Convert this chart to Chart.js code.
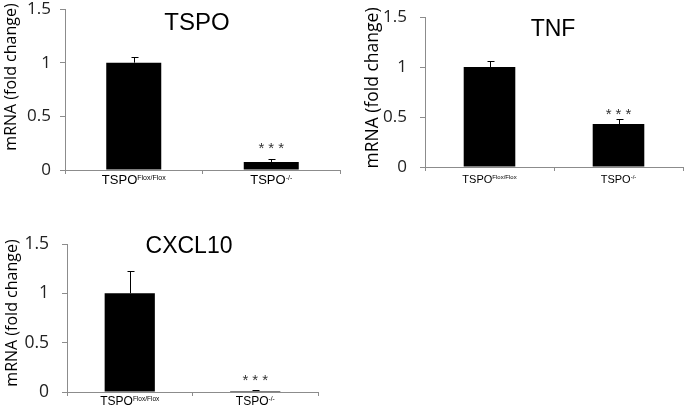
<!DOCTYPE html>
<html>
<head>
<meta charset="utf-8">
<script src="https://cdn.jsdelivr.net/npm/chart.js@4"></script>
<style>
  html, body { margin: 0; padding: 0; background: #fff; }
  body { width: 685px; height: 407px; position: relative; overflow: hidden; }
  canvas { position: absolute; }
</style>
</head>
<body>
<canvas id="tspoChart"></canvas>
<canvas id="tnfChart"></canvas>
<canvas id="cxcl10Chart"></canvas>
<script>
const labelBase = ["TSPO", "TSPO"];
const labelSup = ["Flox/Flox", "-/-"];
const categories = labelBase.map((b, i) => b + labelSup[i]);
const yTicks = [0, 0.5, 1, 1.5];
const significance = ["", "***"];

const tspoValues = [1.0, 0.075];
const tspoErrors = [0.05, 0.03];
const tnfValues = [1.0, 0.43];
const tnfErrors = [0.06, 0.05];
const cxcl10Values = [1.0, 0.01];
const cxcl10Errors = [0.23, 0.01];

const AXIS = "#8c8c8c";
const LEFT = 70, TOP = 30, RIGHT = 5, BOTTOM = 30;

// page coords of each panel (plot box, title, axis title)
const panels = [
  { id: "tspoChart", title: "TSPO", values: tspoValues, errors: tspoErrors,
    area: { l: 65, t: 9, r: 340, b: 170 }, titleX: 197, titleMid: 21.5, titleSize: 24,
    tickSize: 17, tickPad: 9, yTitle: { x: 11, y: 77, size: 16 },
    xSize: 13, supSize: 7, xGap: 14, sigGap: 6 },
  { id: "tnfChart", title: "TNF", values: tnfValues, errors: tnfErrors,
    area: { l: 425, t: 17, r: 683, b: 167 }, titleX: 553, titleMid: 27.5, titleSize: 23,
    tickSize: 17, tickPad: 13, yTitle: { x: 373, y: 88, size: 17.5 },
    xSize: 11, supSize: 6, xGap: 16, sigGap: 0 },
  { id: "cxcl10Chart", title: "CXCL10", values: cxcl10Values, errors: cxcl10Errors,
    area: { l: 67, t: 244, r: 318, b: 392 }, titleX: 189, titleMid: 245, titleSize: 23,
    tickSize: 17.5, tickPad: 13, yTitle: { x: 12, y: 313, size: 16 },
    xSize: 12, supSize: 6.5, xGap: 13, sigGap: 5 }
];

const decorations = {
  id: "decorations",
  afterDraw(chart, args, opts) {
    const p = opts.panel;
    const ctx = chart.ctx;
    const y = chart.scales.y;
    const ox = p.area.l - LEFT, oy = p.area.t - TOP;
    const meta = chart.getDatasetMeta(0);
    const zero = y.getPixelForValue(0);
    ctx.save();
    meta.data.forEach((bar, i) => {
      const top = y.getPixelForValue(p.values[i] + p.errors[i]);
      const bx = Math.round(bar.x) + 0.5;
      ctx.strokeStyle = "#000";
      ctx.lineWidth = 1;
      ctx.beginPath();
      ctx.moveTo(bx, bar.y);
      ctx.lineTo(bx, Math.round(top) + 0.5);
      ctx.moveTo(bx - 3, Math.round(top) + 0.5);
      ctx.lineTo(bx + 4, Math.round(top) + 0.5);
      ctx.stroke();

      if (significance[i]) {
        ctx.fillStyle = "#333";
        ctx.font = "15px 'Liberation Sans', Arial, sans-serif";
        ctx.letterSpacing = "4px";
        ctx.textAlign = "center";
        ctx.textBaseline = "alphabetic";
        ctx.fillText(significance[i], bar.x + 2, top - p.sigGap);
        ctx.letterSpacing = "0px";
      }

      // category label with superscript
      const baseFont = p.xSize + "px 'Liberation Sans', Arial, sans-serif";
      const supFont = p.supSize + "px 'Liberation Sans', Arial, sans-serif";
      ctx.font = baseFont;
      const wb = ctx.measureText(labelBase[i]).width;
      ctx.font = supFont;
      const ws = ctx.measureText(labelSup[i]).width;
      const x0 = bar.x - (wb + ws) / 2;
      const base = zero + p.xGap;
      ctx.fillStyle = "#000";
      ctx.textAlign = "left";
      ctx.font = baseFont;
      ctx.fillText(labelBase[i], x0, base);
      ctx.font = supFont;
      ctx.fillText(labelSup[i], x0 + wb, base - p.xSize * 0.33);
    });

    // panel title
    ctx.fillStyle = "#000";
    ctx.textAlign = "center";
    ctx.textBaseline = "alphabetic";
    ctx.font = p.titleSize + "px 'Liberation Sans', Arial, sans-serif";
    ctx.fillText(p.title, p.titleX - ox, p.titleMid - oy + p.titleSize * 0.358);

    // y axis title
    ctx.translate(p.yTitle.x - ox, p.yTitle.y - oy);
    ctx.rotate(-Math.PI / 2);
    ctx.fillStyle = "#000";
    ctx.textBaseline = "middle";
    ctx.font = p.yTitle.size + "px 'Open Sans', sans-serif";
    ctx.fillText("mRNA (fold change)", 0, 0);
    ctx.restore();
  }
};

panels.forEach(p => {
  const cv = document.getElementById(p.id);
  const w = p.area.r - p.area.l + LEFT + RIGHT;
  const h = p.area.b - p.area.t + TOP + BOTTOM;
  cv.width = w; cv.height = h;
  cv.style.width = w + "px"; cv.style.height = h + "px";
  cv.style.left = (p.area.l - LEFT) + "px";
  cv.style.top = (p.area.t - TOP) + "px";

  new Chart(cv, {
    type: "bar",
    data: {
      labels: categories,
      datasets: [{
        data: p.values,
        backgroundColor: "#000",
        borderWidth: 0,
        barPercentage: 0.4,
        categoryPercentage: 1
      }]
    },
    options: {
      responsive: false,
      animation: false,
      devicePixelRatio: 1,
      layout: { padding: { left: 0, top: TOP, right: RIGHT, bottom: 0 } },
      plugins: {
        legend: { display: false },
        tooltip: { enabled: false },
        decorations: { panel: p }
      },
      scales: {
        x: {
          offset: true,
          grid: { offset: true, drawOnChartArea: false, tickLength: 4, color: AXIS },
          border: { color: AXIS },
          ticks: { display: false },
          afterFit: s => { s.height = BOTTOM; }
        },
        y: {
          min: 0, max: 1.5,
          grid: { drawOnChartArea: false, tickLength: 5, color: AXIS },
          border: { color: AXIS },
          ticks: {
            color: "#222",
            padding: p.tickPad,
            font: { family: "'Open Sans', sans-serif", size: p.tickSize },
            callback: v => String(v)
          },
          afterBuildTicks: s => { s.ticks = yTicks.map(v => ({ value: v })); },
          afterFit: s => { s.width = LEFT; }
        }
      }
    },
    plugins: [decorations]
  });
});
</script>
</body>
</html>
